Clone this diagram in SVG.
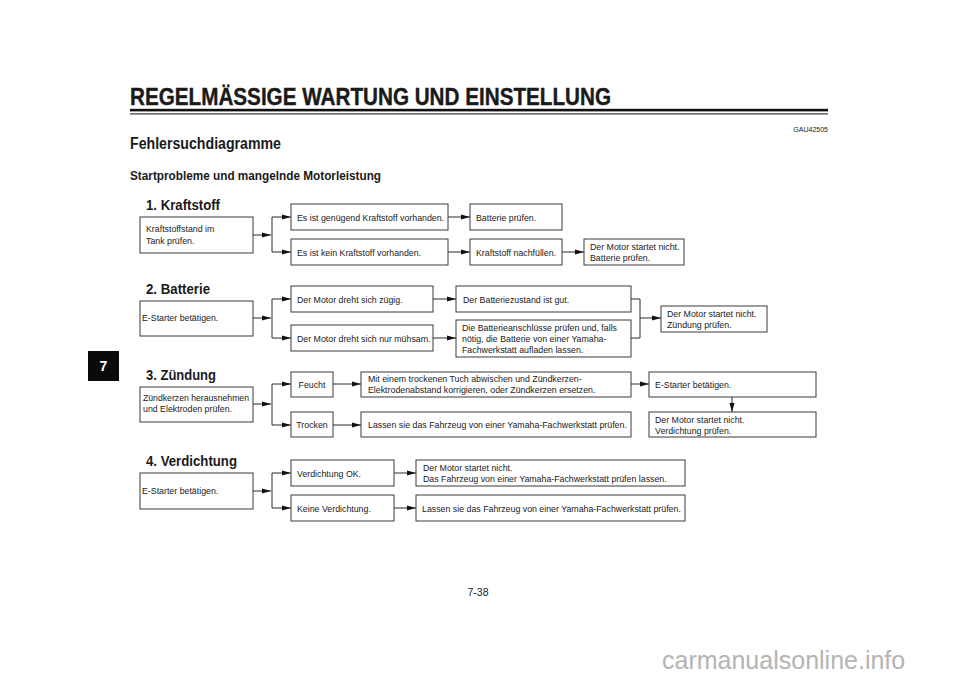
<svg xmlns="http://www.w3.org/2000/svg" width="960" height="679" viewBox="0 0 960 679">
<defs>
<style>
text{font-family:"Liberation Sans",Arial,Helvetica,sans-serif;fill:#1a1a1a}
.t{font-size:8.8px}
.h{font-size:14.5px;font-weight:bold}
.box{fill:#fff;stroke:#3a3a3a;stroke-width:1}
.ln{fill:none;stroke:#2a2a2a;stroke-width:1}
.ar{fill:none;stroke:#2a2a2a;stroke-width:1;marker-end:url(#ah)}
</style>
<marker id="ah" markerUnits="userSpaceOnUse" markerWidth="9" markerHeight="6" refX="9" refY="3" orient="auto">
<path d="M0,0.5 L9,3 L0,5.5 z" fill="#111"/>
</marker>
</defs>
<rect width="960" height="679" fill="#fff"/>

<!-- header -->
<text x="130" y="105" font-size="23.5" font-weight="bold" textLength="481" lengthAdjust="spacingAndGlyphs" stroke="#1a1a1a" stroke-width="0.4">REGELMÄSSIGE WARTUNG UND EINSTELLUNG</text>
<rect x="130" y="108.8" width="698" height="2.6" fill="#111"/>
<rect x="130" y="113.4" width="698" height="1" fill="#111"/>
<text x="828" y="132" font-size="7" text-anchor="end" fill="#333">GAU42505</text>
<text x="130" y="149" font-size="16" font-weight="bold" textLength="151" lengthAdjust="spacingAndGlyphs">Fehlersuchdiagramme</text>
<text x="130" y="180" font-size="12" font-weight="bold" textLength="251" lengthAdjust="spacingAndGlyphs">Startprobleme und mangelnde Motorleistung</text>

<!-- chapter tab -->
<g id="tab">
<rect x="88" y="351" width="31" height="30" fill="#0a0a0a"/>
<text x="103.5" y="371" font-size="14" font-weight="bold" text-anchor="middle" style="fill:#fff">7</text>
</g>

<!-- section headings -->
<text class="h" x="146" y="210" textLength="74" lengthAdjust="spacingAndGlyphs">1. Kraftstoff</text>
<text class="h" x="146" y="294" textLength="64" lengthAdjust="spacingAndGlyphs">2. Batterie</text>
<text class="h" x="146" y="380" textLength="70" lengthAdjust="spacingAndGlyphs">3. Zündung</text>
<text class="h" x="146" y="466" textLength="91" lengthAdjust="spacingAndGlyphs">4. Verdichtung</text>

<!-- connectors -->
<g id="connectors">
<!-- section 1 -->
<path class="ar" d="M253,235 H271"/>
<path class="ln" d="M272,217 V252"/>
<path class="ar" d="M272,217 H291"/>
<path class="ar" d="M272,252 H291"/>
<path class="ar" d="M448,217 H470"/>
<path class="ar" d="M448,252 H470"/>
<path class="ar" d="M562,252 H584"/>
<!-- section 2 -->
<path class="ar" d="M253,318 H271"/>
<path class="ln" d="M272,299 V338"/>
<path class="ar" d="M272,299 H291"/>
<path class="ar" d="M272,338 H291"/>
<path class="ar" d="M433,299 H456"/>
<path class="ar" d="M433,338 H456"/>
<path class="ln" d="M631,299 H640 V338 H631"/>
<path class="ar" d="M640,318 H661"/>
<!-- section 3 -->
<path class="ar" d="M253,404 H271"/>
<path class="ln" d="M272,384 V425"/>
<path class="ar" d="M272,384 H291"/>
<path class="ar" d="M272,425 H291"/>
<path class="ar" d="M333,384 H361"/>
<path class="ar" d="M333,425 H361"/>
<path class="ar" d="M631,384 H649"/>
<path class="ar" d="M732,397 V412"/>
<!-- section 4 -->
<path class="ar" d="M253,491 H271"/>
<path class="ln" d="M272,473 V508"/>
<path class="ar" d="M272,473 H291"/>
<path class="ar" d="M272,508 H291"/>
<path class="ar" d="M394,473 H416"/>
<path class="ar" d="M394,508 H416"/>
</g>

<!-- section 1 nodes -->
<g id="s1-check"><rect class="box" x="140" y="217" width="113" height="36"/><text class="t" x="146" y="232">Kraftstoffstand im</text><text class="t" x="146" y="244">Tank prüfen.</text></g>
<g id="s1-enough"><rect class="box" x="291" y="204" width="157" height="26"/><text class="t" x="297" y="220.5">Es ist genügend Kraftstoff vorhanden.</text></g>
<g id="s1-none"><rect class="box" x="291" y="239" width="157" height="26"/><text class="t" x="297" y="255.5">Es ist kein Kraftstoff vorhanden.</text></g>
<g id="s1-battery"><rect class="box" x="470" y="204" width="92" height="26"/><text class="t" x="476" y="220.5">Batterie prüfen.</text></g>
<g id="s1-refill"><rect class="box" x="470" y="239" width="92" height="26"/><text class="t" x="476" y="255.5">Kraftstoff nachfüllen.</text></g>
<g id="s1-nostart"><rect class="box" x="584" y="239" width="100" height="26"/><text class="t" x="590" y="250">Der Motor startet nicht.</text><text class="t" x="590" y="261">Batterie prüfen.</text></g>

<!-- section 2 nodes -->
<g id="s2-start"><rect class="box" x="140" y="301" width="113" height="35"/><text class="t" x="142" y="321">E-Starter betätigen.</text></g>
<g id="s2-fast"><rect class="box" x="291" y="286" width="142" height="26"/><text class="t" x="297" y="302.5">Der Motor dreht sich zügig.</text></g>
<g id="s2-slow"><rect class="box" x="291" y="325" width="142" height="26"/><text class="t" x="297" y="341.5">Der Motor dreht sich nur mühsam.</text></g>
<g id="s2-good"><rect class="box" x="456" y="286" width="175" height="26"/><text class="t" x="463" y="302.5">Der Batteriezustand ist gut.</text></g>
<g id="s2-charge"><rect class="box" x="456" y="320" width="175" height="37"/><text class="t" x="462" y="331">Die Batterieanschlüsse prüfen und, falls</text><text class="t" x="462" y="342">nötig, die Batterie von einer Yamaha-</text><text class="t" x="462" y="353">Fachwerkstatt aufladen lassen.</text></g>
<g id="s2-nostart"><rect class="box" x="661" y="306" width="106" height="26"/><text class="t" x="667" y="317">Der Motor startet nicht.</text><text class="t" x="667" y="328">Zündung prüfen.</text></g>

<!-- section 3 nodes -->
<g id="s3-plugs"><rect class="box" x="140" y="387" width="113" height="35"/><text class="t" x="143" y="401" textLength="106" lengthAdjust="spacingAndGlyphs">Zündkerzen herausnehmen</text><text class="t" x="143" y="412">und Elektroden prüfen.</text></g>
<g id="s3-wet"><rect class="box" x="291" y="372" width="42" height="25"/><text class="t" x="312" y="388" text-anchor="middle">Feucht</text></g>
<g id="s3-dry"><rect class="box" x="291" y="412" width="42" height="25"/><text class="t" x="312" y="428" text-anchor="middle">Trocken</text></g>
<g id="s3-clean"><rect class="box" x="361" y="372" width="270" height="25"/><text class="t" x="368" y="382">Mit einem trockenen Tuch abwischen und Zündkerzen-</text><text class="t" x="368" y="393">Elektrodenabstand korrigieren, oder Zündkerzen ersetzen.</text></g>
<g id="s3-workshop"><rect class="box" x="361" y="412" width="270" height="25"/><text class="t" x="368" y="428">Lassen sie das Fahrzeug von einer Yamaha-Fachwerkstatt prüfen.</text></g>
<g id="s3-start"><rect class="box" x="649" y="372" width="167" height="25"/><text class="t" x="655" y="388">E-Starter betätigen.</text></g>
<g id="s3-nostart"><rect class="box" x="649" y="412" width="167" height="25"/><text class="t" x="655" y="423">Der Motor startet nicht.</text><text class="t" x="655" y="434">Verdichtung prüfen.</text></g>

<!-- section 4 nodes -->
<g id="s4-start"><rect class="box" x="140" y="473" width="113" height="36"/><text class="t" x="142" y="494">E-Starter betätigen.</text></g>
<g id="s4-ok"><rect class="box" x="291" y="460" width="103" height="26"/><text class="t" x="297" y="476.5">Verdichtung OK.</text></g>
<g id="s4-none"><rect class="box" x="291" y="495" width="103" height="26"/><text class="t" x="297" y="511.5">Keine Verdichtung.</text></g>
<g id="s4-nostart"><rect class="box" x="416" y="460" width="269" height="26"/><text class="t" x="423" y="471">Der Motor startet nicht.</text><text class="t" x="423" y="482">Das Fahrzeug von einer Yamaha-Fachwerkstatt prüfen lassen.</text></g>
<g id="s4-workshop"><rect class="box" x="416" y="495" width="269" height="26"/><text class="t" x="422" y="511.5">Lassen sie das Fahrzeug von einer Yamaha-Fachwerkstatt prüfen.</text></g>

<!-- footer -->
<text x="478" y="596" font-size="10.5" text-anchor="middle">7-38</text>
<text x="662" y="669" font-size="25" style="fill:#b4b4b4">carmanualsonline.info</text>
</svg>
